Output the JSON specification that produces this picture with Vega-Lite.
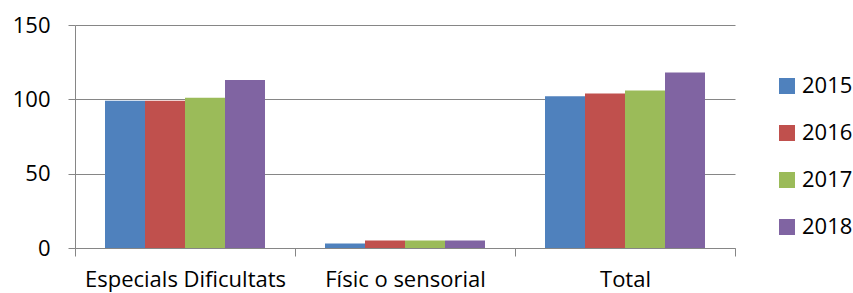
{
  "$schema": "https://vega.github.io/schema/vega-lite/v6.json",
  "autosize": "none",
  "width": 660,
  "height": 223,
  "padding": {"left": 75, "top": 25, "right": 118, "bottom": 45},
  "background": "white",
  "data": {
    "values": [
      {"category": "Especials Dificultats", "year": "2015", "value": 99},
      {"category": "Especials Dificultats", "year": "2016", "value": 99},
      {"category": "Especials Dificultats", "year": "2017", "value": 101},
      {"category": "Especials Dificultats", "year": "2018", "value": 113},
      {"category": "Físic o sensorial", "year": "2015", "value": 3},
      {"category": "Físic o sensorial", "year": "2016", "value": 5},
      {"category": "Físic o sensorial", "year": "2017", "value": 5},
      {"category": "Físic o sensorial", "year": "2018", "value": 5},
      {"category": "Total", "year": "2015", "value": 102},
      {"category": "Total", "year": "2016", "value": 104},
      {"category": "Total", "year": "2017", "value": 106},
      {"category": "Total", "year": "2018", "value": 118}
    ]
  },
  "mark": {"type": "bar"},
  "encoding": {
    "x": {
      "field": "category",
      "type": "nominal",
      "sort": null,
      "scale": {"paddingInner": 0, "paddingOuter": 0},
      "axis": {
        "title": null,
        "labelAngle": 0,
        "labelLimit": 0,
        "tickBand": "extent",
        "tickSize": 8,
        "tickColor": "#868686",
        "domainColor": "#868686",
        "labelFont": "Open Sans",
        "labelFontSize": 22,
        "labelColor": "#000000",
        "labelPadding": 13,
        "grid": false
      }
    },
    "xOffset": {
      "field": "year",
      "type": "nominal",
      "scale": {"paddingInner": 0, "paddingOuter": 0.75}
    },
    "y": {
      "field": "value",
      "type": "quantitative",
      "scale": {"domain": [0, 150], "nice": false},
      "axis": {
        "title": null,
        "values": [0, 50, 100, 150],
        "tickSize": 7,
        "tickColor": "#868686",
        "domainColor": "#868686",
        "gridColor": "#868686",
        "labelFont": "Open Sans",
        "labelFontSize": 22,
        "labelColor": "#000000",
        "labelPadding": 18
      }
    },
    "color": {
      "field": "year",
      "type": "nominal",
      "scale": {"range": ["#4F81BD", "#C0504D", "#9BBB59", "#8064A2"]},
      "legend": {
        "title": null,
        "orient": "none",
        "legendX": 701,
        "legendY": 50,
        "padding": 0,
        "symbolType": "square",
        "symbolSize": 256,
        "symbolStrokeWidth": 0,
        "symbolOffset": 0,
        "labelOffset": 4,
        "labelLimit": 0,
        "labelFont": "Open Sans",
        "labelFontSize": 22,
        "labelColor": "#000000",
        "rowPadding": 25
      }
    }
  },
  "config": {
    "view": {"stroke": null},
    "axis": {"domainWidth": 1, "tickWidth": 1, "gridWidth": 1}
  }
}
